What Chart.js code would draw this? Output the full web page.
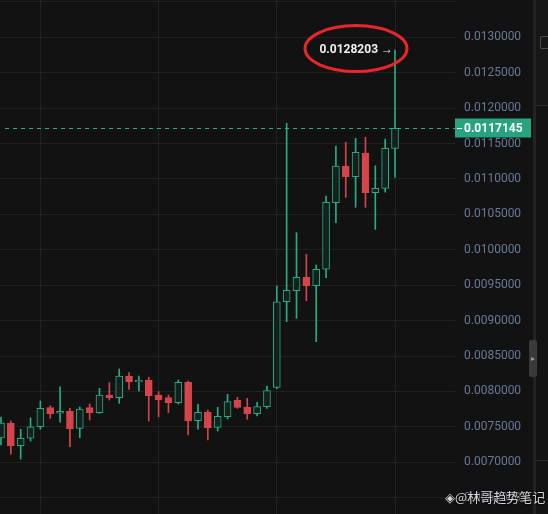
<!DOCTYPE html>
<html>
<head>
<meta charset="utf-8">
<script src="https://cdn.jsdelivr.net/npm/chart.js@4.4.1/dist/chart.umd.min.js"></script>
<style>
    html, body { margin: 0; padding: 0; background: #121212; }
    #wrap { position: relative; width: 548px; height: 514px; overflow: hidden; background: #121212; }
    #box { position: absolute; left: 0; top: 0; width: 533px; height: 514px; }
    #side { position: absolute; left: 533px; top: 0; width: 15px; height: 514px; background: #131313; border-left: 3px solid #232323; box-sizing: border-box; }
    #sideTop { position: absolute; left: 0; top: 0; width: 12px; height: 105px; background: #171717; border-bottom: 1px solid #2a2a2a; }
    #sideBtn { position: absolute; left: 4px; top: 36px; width: 8px; height: 13px; border: 1px solid #4a4a4a; border-right: none; border-radius: 2px 0 0 2px; box-sizing: border-box; }
    #sideBottom { position: absolute; left: 0; top: 460px; width: 12px; height: 54px; border-top: 1px solid #2a2a2a; }
    #tab { position: absolute; left: 529px; top: 340px; width: 8px; height: 37px; background: #3a3a3a; border-radius: 2px; color: #9a9a9a; font: 8px sans-serif; line-height: 37px; text-align: center; }
    #mark { position: absolute; left: 445px; top: 487px; font: 13px "Noto Sans CJK SC", sans-serif; color: rgba(235,235,235,0.9); text-shadow: 0 0 2px #000, 0 0 2px #000; white-space: nowrap; }
</style>
</head>
<body>
<div id="wrap">
    <div id="box"><canvas id="klineChart" width="533" height="514"></canvas></div>
    <div id="side"><div id="sideTop"><div id="sideBtn"></div></div><div id="sideBottom"></div></div>
    <div id="tab">&#9656;</div>
    <div id="mark">&#9672;@林哥趋势笔记</div>
</div>

<script>

// ---------------------------
// Candle data
// ---------------------------

const opens = [
    0.007343, 0.007550, 0.007234, 0.007339, 0.007502, 0.007771, 0.007692, 0.007724, 0.007480, 0.007771,
    0.007700, 0.007950, 0.007912, 0.008218, 0.008134, 0.008162, 0.007950, 0.007912, 0.007841, 0.008129,
    0.007587, 0.007710, 0.007494, 0.007644, 0.007875, 0.007776, 0.007686, 0.007785, 0.008057, 0.009267,
    0.009422, 0.009612, 0.009493, 0.009725, 0.010665, 0.011183, 0.011032, 0.011367, 0.010806, 0.010868,
    0.011433
];

const highs = [
    0.007640, 0.007583, 0.007466, 0.007629, 0.007865, 0.007799, 0.008067, 0.007762, 0.007781, 0.007823,
    0.008044, 0.008124, 0.008317, 0.008265, 0.008218, 0.008200, 0.007997, 0.007950, 0.008162, 0.008148,
    0.007819, 0.007738, 0.007776, 0.007960, 0.007918, 0.007903, 0.007847, 0.008077, 0.009489, 0.011786,
    0.010241, 0.009936, 0.009785, 0.010760, 0.011465, 0.011518, 0.011574, 0.011588, 0.011187, 0.011564,
    0.0128203
];

const lows = [
    0.007244, 0.007113, 0.007046, 0.007301, 0.007466, 0.007621, 0.007565, 0.007220, 0.007347, 0.007597,
    0.007692, 0.007879, 0.007833, 0.008030, 0.008006, 0.007583, 0.007644, 0.007700, 0.007823, 0.007385,
    0.007466, 0.007315, 0.007442, 0.007611, 0.007762, 0.007607, 0.007654, 0.007762, 0.008040, 0.008985,
    0.009033, 0.009281, 0.008703, 0.009606, 0.010382, 0.010741, 0.010600, 0.010600, 0.010289, 0.010812,
    0.011024
];

const closes = [
    0.007555, 0.007234, 0.007339, 0.007502, 0.007762, 0.007686, 0.007720, 0.007470, 0.007752, 0.007700,
    0.007950, 0.007912, 0.008218, 0.008138, 0.008158, 0.007940, 0.007879, 0.007841, 0.008129, 0.007583,
    0.007706, 0.007488, 0.007649, 0.007856, 0.007776, 0.007686, 0.007785, 0.008011, 0.009267, 0.009428,
    0.009612, 0.009493, 0.009725, 0.010671, 0.011183, 0.011032, 0.011377, 0.010806, 0.010868, 0.011433,
    0.0117145
];

const yTicks = [
    0.0065, 0.0070, 0.0075, 0.0080, 0.0085, 0.0090, 0.0095, 0.0100,
    0.0105, 0.0110, 0.0115, 0.0120, 0.0125, 0.0130, 0.0135
];

const xGridAt = [4, 16, 28, 40];

const lastPrice = closes[closes.length - 1];
const peakPrice = Math.max(...highs);


// ---------------------------
// Colours
// ---------------------------

const UP = "#25ad88";
const UP_FILL = "#15201c";
const DOWN = "#d6444b";
const PRICE_BOX = "#27a47f";

const isUp = opens.map((o, i) => closes[i] >= o);

const bodies = opens.map((o, i) => ({ x: i, y: [o, closes[i]] }));
const wicks = lows.map((l, i) => ({ x: i, y: [l, highs[i]] }));


// ---------------------------
// Price line, price tag and marked high
// ---------------------------

const overlayPlugin = {

    id: "overlay",

    afterDraw(chart) {

        const ctx = chart.ctx;
        const area = chart.chartArea;
        const xs = chart.scales.x;
        const ys = chart.scales.y;

        // dashed last price line
        const py = Math.round(ys.getPixelForValue(lastPrice)) + 0.5;

        ctx.save();
        ctx.strokeStyle = UP;
        ctx.lineWidth = 1;
        ctx.setLineDash([4, 4]);
        ctx.beginPath();
        ctx.moveTo(area.left + 5, py);
        ctx.lineTo(area.right, py);
        ctx.stroke();
        ctx.setLineDash([]);

        // price tag on the axis
        ctx.fillStyle = PRICE_BOX;
        ctx.fillRect(area.right, py - 10, 76, 19);
        ctx.strokeStyle = "#ffffff";
        ctx.beginPath();
        ctx.moveTo(area.right + 2, py);
        ctx.lineTo(area.right + 7, py);
        ctx.stroke();
        ctx.fillStyle = "#ffffff";
        ctx.font = "bold 12px Roboto";
        ctx.textAlign = "left";
        ctx.textBaseline = "middle";
        ctx.fillText(lastPrice.toFixed(7), area.right + 9, py);

        // high marker
        const hi = highs.indexOf(peakPrice);
        const hx = xs.getPixelForValue(hi);
        const hy = ys.getPixelForValue(peakPrice);

        ctx.fillStyle = "#f0f0f0";
        ctx.font = "bold 12px Roboto";
        ctx.textAlign = "right";
        ctx.fillText(peakPrice.toFixed(7) + " \u2192", hx - 2, hy);

        // red circle drawn round it
        ctx.strokeStyle = "#e8262b";
        ctx.lineWidth = 3;
        ctx.beginPath();
        ctx.ellipse(hx - 39, hy - 1.5, 51, 23, 0, 0, Math.PI * 2);
        ctx.stroke();

        ctx.restore();

    }

};


// ---------------------------
// Candlestick chart
// ---------------------------

Chart.defaults.font.family = "Roboto";

const klineCanvas = document.getElementById("klineChart");

new Chart(klineCanvas, {

    type: "bar",

    data: {

        datasets: [

            {

                label: "Body",

                data: bodies,

                grouped: false,

                barThickness: 7,

                minBarLength: 1,

                backgroundColor: isUp.map(u => u ? UP_FILL : DOWN),

                borderColor: isUp.map(u => u ? UP : DOWN),

                borderWidth: 1,

                borderSkipped: false

            },

            {

                label: "Wick",

                data: wicks,

                grouped: false,

                barThickness: 1,

                backgroundColor: isUp.map(u => u ? UP : DOWN),

                borderWidth: 0

            }

        ]

    },

    plugins: [overlayPlugin],

    options: {

        responsive: false,
        animation: false,

        layout: {

            padding: 0

        },

        plugins: {

            legend: { display: false },

            tooltip: { enabled: false }

        },

        scales: {

            x: {

                type: "linear",

                min: -0.1,
                max: 46.09,

                offset: false,

                afterBuildTicks: function(axis){

                    axis.ticks = xGridAt.map(v => ({ value: v }));

                },

                ticks: { display: false },

                grid: {

                    color: "#212121",
                    offset: false,
                    drawTicks: false

                },

                border: { display: false }

            },

            y: {

                type: "linear",

                position: "right",

                min: 0.0062701,
                max: 0.0135266,

                afterBuildTicks: function(axis){

                    axis.ticks = yTicks.map(v => ({ value: v }));

                },

                afterFit: function(axis){

                    axis.width = 78;
                    axis.paddingTop = 0;
                    axis.paddingBottom = 0;

                },

                ticks: {

                    color: "#687896",

                    padding: 9,

                    font: { size: 12 },

                    callback: function(value){

                        return value > 0.0131 ? "" : Number(value).toFixed(7);

                    }

                },

                grid: {

                    color: "#212121",
                    drawTicks: false

                },

                border: { display: false }

            }

        }

    }

});

</script>
</body>
</html>
